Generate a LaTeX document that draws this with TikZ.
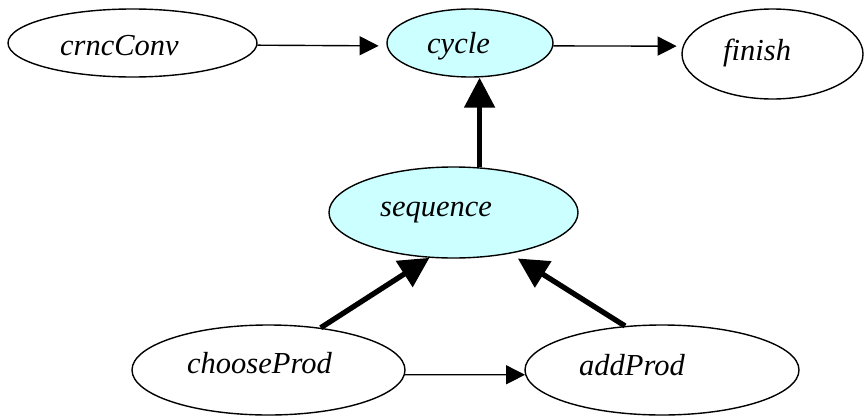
\documentclass[tikz,border=0pt]{standalone}
\usepackage{fontspec}
\setmainfont{Liberation Serif}
\newfontfamily\statefont{Liberation Serif Italic}
\usetikzlibrary{arrows.meta,shapes.geometric}
\definecolor{paleCyan}{RGB}{204,255,255}
\begin{document}
\begin{tikzpicture}[x=1pt,y=-1pt,
  state/.style={ellipse,draw,line width=1.4pt,inner sep=0pt},
  active/.style={state,fill=paleCyan},
  tag/.style={anchor=base west,inner sep=0pt,font=\statefont\fontsize{30.5}{36}\selectfont},
  thin arrow/.style={line width=1.4pt,-{Triangle[length=19pt,width=19pt]}},
  thick arrow/.style={line width=5.3pt,-{Triangle[length=30pt,width=30pt]}}]
\useasboundingbox (0,0) rectangle (864,415);

% states
\node[state,minimum width=249pt,minimum height=68pt] (crncConv) at (132.5,43) {};
\node[active,minimum width=166pt,minimum height=68pt] (cycle) at (470,43) {};
\node[state,minimum width=181pt,minimum height=90pt] (finish) at (772.5,54) {};
\node[active,minimum width=249pt,minimum height=91pt] (sequence) at (453.5,212.5) {};
\node[state,minimum width=273pt,minimum height=90pt] (chooseProd) at (268.5,370) {};
\node[state,minimum width=274pt,minimum height=90pt] (addProd) at (662,370) {};

% labels
\node[tag] (crncConv-label) at (60,55) {crncConv};
\node[tag] (cycle-label) at (427,53.3) {cycle};
\node[tag] (finish-label) at (723,60) {finish};
\node[tag] (sequence-label) at (380,216.7) {sequence};
\node[tag] (chooseProd-label) at (187,373.3) {chooseProd};
\node[tag] (addProd-label) at (579,375) {addProd};

% transitions
\draw[thin arrow,shorten >=8pt] (crncConv.-1.85) -- (cycle.182.8);
\draw[thin arrow,shorten >=6pt] (cycle.-2.8) -- (finish.175.6);
\draw[thin arrow] (chooseProd.-2.9) -- (addProd.182.9);

% composition
\draw[thick arrow] (sequence.60.4) -- (sequence.60.4 |- cycle.south);
\draw[thick arrow] (chooseProd.39) -- (sequence.-118.4);
\draw[thick arrow,shorten >=9pt] (addProd.130.5) -- (sequence.-36.2);
\end{tikzpicture}
\end{document}
